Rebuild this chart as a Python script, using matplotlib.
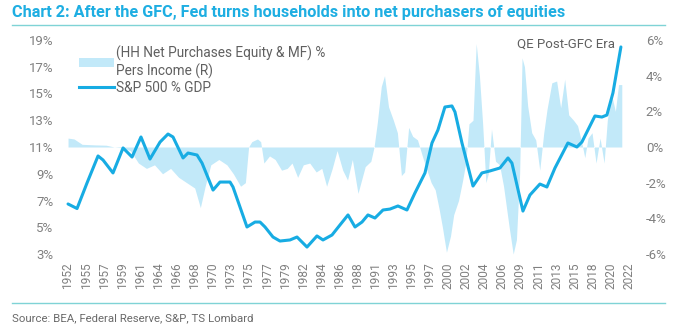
import matplotlib
matplotlib.use("Agg")
import matplotlib.pyplot as plt
from matplotlib.lines import Line2D
from matplotlib.patches import Patch
import numpy as np

# S&P 500 % GDP (left axis), read at key points
spx_years = [1952.75, 1953.87, 1955.11, 1956.48, 1957.10, 1958.34, 1959.59, 1960.71, 1961.82, 1962.94,
             1964.19, 1965.18, 1965.80, 1967.05, 1967.67, 1968.79, 1969.41, 1970.78, 1971.64, 1972.89,
             1973.26, 1975.00, 1976.00, 1976.62, 1977.24, 1978.23, 1979.10, 1980.35, 1981.22, 1982.46,
             1983.70, 1984.45, 1985.57, 1986.56, 1987.56, 1988.43, 1989.30, 1990.04, 1990.91, 1991.91,
             1992.78, 1993.77, 1994.89, 1995.88, 1997.13, 1998.00, 1998.74, 1999.61, 2000.48, 2000.86,
             2001.73, 2003.10, 2004.21, 2005.21, 2006.45, 2007.45, 2007.94, 2009.31, 2010.18, 2011.42,
             2012.29, 2013.29, 2014.90, 2016.02, 2016.64, 2018.26, 2019.13, 2019.75, 2020.50, 2021.49]
spx_values = [6.74, 6.40, 8.31, 10.33, 10.03, 9.06, 10.93, 10.25, 11.75, 10.10,
              11.37, 11.97, 11.75, 10.18, 10.55, 10.40, 9.80, 7.78, 8.38, 8.38,
              8.01, 5.02, 5.39, 5.39, 5.02, 4.27, 3.97, 4.05, 4.27, 3.52,
              4.35, 4.05, 4.42, 5.17, 5.92, 5.02, 5.39, 5.92, 5.69, 6.29,
              6.36, 6.59, 6.29, 7.56, 9.06, 11.30, 12.27, 13.99, 14.07, 13.62,
              11.30, 8.08, 9.06, 9.21, 9.43, 10.18, 9.80, 6.21, 7.41, 8.23,
              8.01, 9.43, 11.30, 11.00, 11.37, 13.32, 13.24, 13.39, 15.04, 18.48]

# HH Net Purchases Equity & MF % Pers Income (right axis)
hh_years = [1952.75, 1953.5, 1954.5, 1956.0, 1957.5, 1958.5, 1959.5, 1960.5, 1961.5, 1962.5,
            1963.5, 1964.5, 1965.5, 1966.5, 1967.5, 1968.5, 1969.2, 1969.8, 1970.5, 1971.5,
            1972.5, 1973.3, 1974.2, 1974.8, 1975.2, 1975.6, 1976.3, 1976.7, 1977.1, 1977.8,
            1978.5, 1979.3, 1980.0, 1980.6, 1981.3, 1982.0, 1982.8, 1983.6, 1984.3, 1984.9,
            1985.6, 1986.2, 1986.9, 1987.5, 1988.1, 1988.8, 1989.7, 1990.4, 1990.8, 1991.2,
            1991.7, 1992.1, 1992.6, 1993.2, 1993.7, 1994.2, 1994.6, 1995.1, 1995.6, 1996.2,
            1996.8, 1997.3, 1997.9, 1998.4, 1998.9, 1999.3, 1999.8, 2000.3, 2000.7, 2001.3,
            2001.8, 2002.2, 2002.6, 2003.1, 2003.5, 2003.9, 2004.3, 2004.7, 2005.0, 2005.4,
            2005.9, 2006.4, 2006.9, 2007.6, 2008.1, 2008.5, 2008.9, 2009.2, 2009.5, 2009.9,
            2010.4, 2010.9, 2011.4, 2011.9, 2012.3, 2012.9, 2013.5, 2014.0, 2014.5, 2015.0,
            2015.6, 2016.1, 2016.6, 2017.0, 2017.4, 2017.9, 2018.4, 2018.9, 2019.4, 2019.8,
            2020.3, 2020.8, 2021.2, 2021.6]
hh_values = [0.5, 0.45, 0.15, 0.12, 0.1, 0.0, -0.05, -0.2, -0.9, -1.2,
             -1.0, -1.5, -1.2, -1.7, -2.0, -2.3, -3.4, -2.2, -1.0, -0.7,
             -1.0, -1.5, -2.2, -2.0, 0.0, 0.3, 0.45, 0.3, -0.9, -0.5,
             -0.7, -1.3, -1.2, -0.9, -1.7, -1.0, -0.9, -1.4, -1.2, -2.2,
             -1.2, -0.2, -1.3, -1.85, -0.7, -2.6, -1.1, -0.8, 0.0, 1.35,
             3.4, 4.0, 2.25, 1.5, 0.8, -1.6, -1.4, 1.1, 0.6, 0.4,
             -0.5, -1.2, -2.0, -2.4, -3.5, -4.5, -5.9, -5.0, -3.8, -3.0,
             -1.9, -0.9, 1.3, 1.5, 5.8, 4.0, 1.3, -2.0, -1.5, 1.0,
             -0.8, -1.0, -2.2, -4.5, -6.0, -5.2, -1.5, 5.0, 4.5, 2.3,
             0.8, 0.4, -1.3, 0.8, 2.1, 3.6, 3.7, 2.2, 3.8, 1.8,
             1.5, 1.2, 0.3, -0.6, 0.5, 0.8, -0.9, 0.5, -0.9, 1.5,
             3.0, 2.0, 3.5, 3.5]

tick_years = [1952.75 + 2.25 * i for i in range(32)]
tick_labels = [str(int(t)) for t in tick_years]
left_ticks = [3, 5, 7, 9, 11, 13, 15, 17, 19]
right_ticks = [-6, -4, -2, 0, 2, 4, 6]

LINE_C = "#17ace3"
BAR_C = "#c2e9f9"
TXT_C = "#808080"
TITLE_C = "#1eaee2"
RULE_C = "#7fd3d6"

plt.rcParams['font.family'] = ['Roboto', 'DejaVu Sans']

fig = plt.figure(figsize=(7.0, 3.29), dpi=100)
ax = fig.add_axes([62/700, 1 - 254/329, (632-62)/700, (254-40)/329])
ax2 = ax.twinx()

ax2.fill_between(hh_years, 0, hh_values, color=BAR_C, linewidth=0, zorder=1)
ax2.set_ylim(-6, 6)
ax2.set_yticks(right_ticks)
ax2.set_yticklabels([f"{v}%" for v in right_ticks])

ax.set_zorder(ax2.get_zorder() + 1)
ax.patch.set_visible(False)
ax.plot(spx_years, spx_values, color=LINE_C, lw=2.2, solid_capstyle='round', zorder=3)
ax.set_ylim(3, 19)
ax.set_yticks(left_ticks)
ax.set_yticklabels([f"{v}%" for v in left_ticks])
ax.set_xlim(1952.0, 2022.87)
ax.set_xticks(tick_years)
ax.set_xticklabels(tick_labels, rotation=90)

for a in (ax, ax2):
    for s in a.spines.values():
        s.set_visible(False)
    a.tick_params(length=0, colors=TXT_C, labelsize=9.5)
ax.tick_params(axis='x', labelsize=8.6, pad=6)
ax.tick_params(axis='y', pad=6)
ax2.tick_params(axis='y', pad=10)

ax.text(2020.75, 18.7, "QE Post-GFC Era", ha='right', va='center', fontsize=9.5, color="#606060")

handles = [Patch(facecolor=BAR_C, edgecolor='none'), Line2D([0], [0], color=LINE_C, lw=2.2)]
labels = ["(HH Net Purchases Equity & MF) %\nPers Income (R)", "S&P 500 % GDP"]
leg = ax.legend(handles, labels, loc='upper left', bbox_to_anchor=(0.02, 1.0), frameon=False,
                fontsize=9.8, labelcolor="#606060", handlelength=2.6, handletextpad=0.1,
                borderaxespad=0.0, labelspacing=0.15)

fig.text(12/700, 1 - 12/329, "Chart 2: After the GFC, Fed turns households into net purchasers of equities",
         family=['Liberation Sans Narrow', 'Roboto'], weight='bold', fontsize=11.7, color=TITLE_C,
         ha='left', va='center')
fig.add_artist(Line2D([12/700, 665/700], [1 - 25/329, 1 - 25/329], color=RULE_C, lw=1.0))
fig.add_artist(Line2D([12/700, 665/700], [1 - 303/329, 1 - 303/329], color=RULE_C, lw=1.0))
fig.text(12/700, 1 - 318/329, "Source: BEA, Federal Reserve, S&P, TS Lombard",
         family=['Liberation Sans Narrow', 'Roboto'], fontsize=8.2, color="#6a6a6a", ha='left', va='center')

fig.savefig("out.png", dpi=100)
